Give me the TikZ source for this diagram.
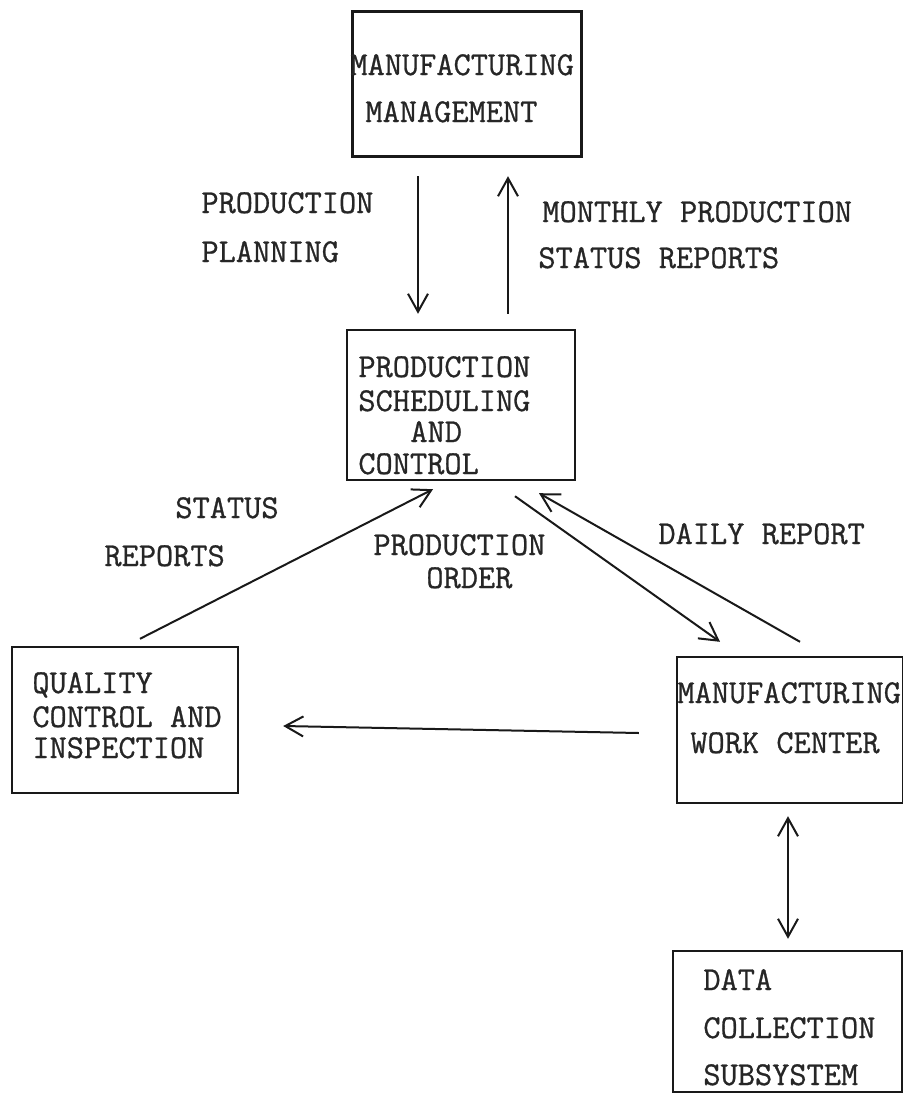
\documentclass[tikz,border=0pt]{standalone}
\usepackage{fontspec}
\usetikzlibrary{arrows.meta}
% typewriter face with slightly heavier strokes
\newfontfamily\typer{Latin Modern Mono}[FakeBold=0.8]
\begin{document}
\begin{tikzpicture}[x=0.5pt,y=-0.5pt,
  box/.style={draw=black!90,line width=1.2pt,inner sep=0pt},
  txt/.style={anchor=base west,inner sep=0pt,text=black!85,
    font=\typer\fontsize{16.7}{20}\selectfont},
  arr/.style={draw=black!90,line width=1pt,-{Straight Barb[length=9pt,width=10pt,line width=1pt]}},
  darr/.style={draw=black!90,line width=1pt,{Straight Barb[length=9pt,width=10pt,line width=1pt]}-{Straight Barb[length=9pt,width=10pt,line width=1pt]}}]
\useasboundingbox (0,0) rectangle (903,1098);

% boxes
\node[box,minimum width=114.5pt,minimum height=72.5pt] (mm)  at (467,84) {};
\node[box,minimum width=114pt,minimum height=75pt]     (psc) at (461,405) {};
\node[box,minimum width=113pt,minimum height=73pt]     (qci) at (125,720) {};
\node[box,minimum width=113pt,minimum height=73pt]     (mwc) at (790,730) {};
\node[box,minimum width=114.5pt,minimum height=70.5pt] (dcs) at (787.5,1021.5) {};

% box texts
\node[txt] (mm1) at (350,75)  {MANUFACTURING};
\node[txt] (mm2) at (365,122) {MANAGEMENT};

\node[txt] (psc1) at (358,377) {PRODUCTION};
\node[txt] (psc2) at (358,411) {SCHEDULING};
\node[txt] (psc3) at (410,442) {AND};
\node[txt] (psc4) at (358,474) {CONTROL};

\node[txt] (qci1) at (32,693) {QUALITY};
\node[txt] (qci2) at (32,727) {CONTROL AND};
\node[txt] (qci3) at (32,758) {INSPECTION};

\node[txt] (mwc1) at (677,703) {MANUFACTURING};
\node[txt] (mwc2) at (690,753) {WORK CENTER};

\node[txt] (dcs1) at (703,990)  {DATA};
\node[txt] (dcs2) at (703,1038) {COLLECTION};
\node[txt] (dcs3) at (703,1085) {SUBSYSTEM};

% connector labels
\node[txt] (pp1) at (201,213) {PRODUCTION};
\node[txt] (pp2) at (201,262) {PLANNING};
\node[txt] (mp1) at (542,222) {MONTHLY PRODUCTION};
\node[txt] (mp2) at (538,268) {STATUS REPORTS};
\node[txt] (sr1) at (175,518) {STATUS};
\node[txt] (sr2) at (104,566) {REPORTS};
\node[txt] (po1) at (373,555) {PRODUCTION};
\node[txt] (po2) at (426,588) {ORDER};
\node[txt] (dr)  at (658,544) {DAILY REPORT};

% connectors
\draw[arr] ([shift={(-49,18.5)}]mm.south) -- ([shift={(-43,-15)}]psc.north);
\draw[arr] ([shift={(47,-15)}]psc.north) -- ([shift={(41,18.5)}]mm.south);
\draw[arr] ([shift={(15,-7)}]qci.north) -- ([shift={(-28,8)}]psc.south);
\draw[arr] ([shift={(54,15)}]psc.south) -- ([shift={(-70,-14)}]mwc.north);
\draw[arr] ([shift={(10,-14)}]mwc.north) -- ([shift={(78,12)}]psc.south);
\draw[arr] ([shift={(-37,3)}]mwc.west) -- ([shift={(44,6)}]qci.east);
\draw[darr] ([shift={(-2,12)}]mwc.south) -- ([shift={(0.5,-11)}]dcs.north);
\end{tikzpicture}
\end{document}
